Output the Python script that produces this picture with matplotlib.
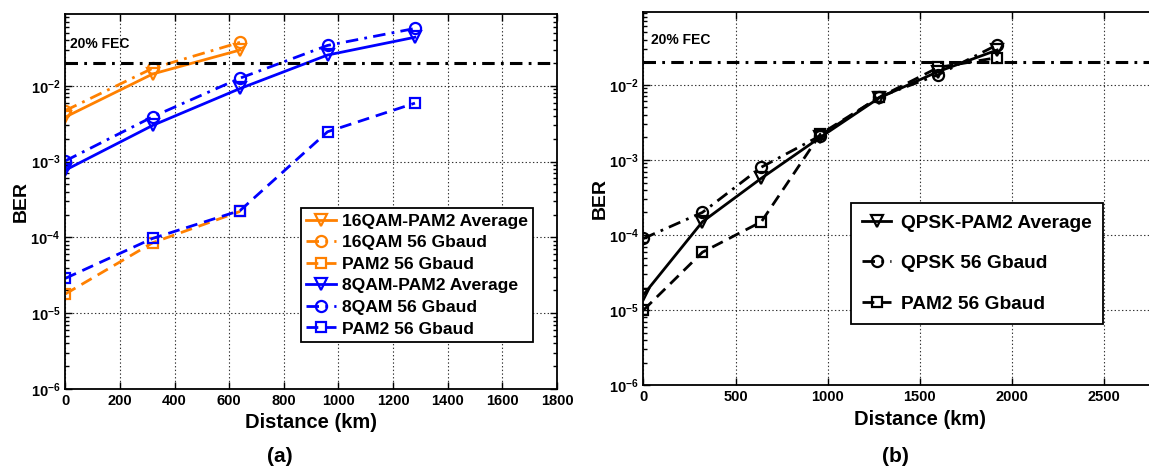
import matplotlib
matplotlib.use('Agg')
import matplotlib.pyplot as plt
from matplotlib.ticker import LogLocator, NullFormatter

plt.rcParams['font.family'] = ['Liberation Sans', 'DejaVu Sans']
plt.rcParams['font.weight'] = 'bold'
plt.rcParams['mathtext.fontset'] = 'custom'
plt.rcParams['mathtext.rm'] = 'Liberation Sans:bold'
plt.rcParams['mathtext.it'] = 'Liberation Sans:bold'
plt.rcParams['mathtext.bf'] = 'Liberation Sans:bold'
plt.rcParams['mathtext.default'] = 'regular'
plt.rcParams['lines.scale_dashes'] = False

# ---- panel (a) data ----
dist_a = [0, 320, 640, 960, 1280]
qam16_avg = [3.86e-3, 1.43e-2, 2.96e-2]
qam16_56 = [4.7e-3, 1.7e-2, 3.74e-2]
pam2_16 = [1.79e-5, 8.5e-5, 2.2e-4]
qam8_avg = [7.7e-4, 3.0e-3, 9.2e-3, 2.54e-2, 4.36e-2]
qam8_56 = [1.02e-3, 3.9e-3, 1.26e-2, 3.4e-2, 5.7e-2]
pam2_8 = [2.88e-5, 9.7e-5, 2.26e-4, 2.47e-3, 5.9e-3]

# ---- panel (b) data ----
dist_b = [0, 320, 640, 960, 1280, 1600, 1920]
qpsk_avg = [1.6e-5, 1.5e-4, 5.7e-4, 2.0e-3, 6.7e-3, 1.5e-2, 2.9e-2]
qpsk_56 = [9.0e-5, 2.0e-4, 8.0e-4, 2.1e-3, 6.9e-3, 1.36e-2, 3.4e-2]
pam2_b = [1.0e-5, 5.9e-5, 1.5e-4, 2.2e-3, 6.8e-3, 1.7e-2, 2.3e-2]

fec = 2e-2
orange = '#ff8000'
blue = '#0000ff'
dashdot = (9, 4.5, 2, 4.5)
dashed = (8.5, 5)

fig = plt.figure(figsize=(11.49, 4.67), dpi=100)
ax1 = fig.add_axes([0.0568, 0.167, 0.428, 0.803])
ax2 = fig.add_axes([0.560, 0.175, 0.481, 0.799])


def style(ax, ymax):
    ax.set_yscale('log')
    ax.set_ylim(1e-6, ymax)
    ax.yaxis.set_major_locator(LogLocator(base=10, numticks=10))
    ax.yaxis.set_minor_locator(LogLocator(base=10, subs=range(2, 10), numticks=10))
    ax.yaxis.set_minor_formatter(NullFormatter())
    ax.tick_params(which='both', direction='in', top=True, right=True,
                   labelsize=10.5, width=1)
    ax.tick_params(which='major', length=5)
    ax.tick_params(which='minor', length=3)
    ax.grid(True, which='major', color='k', ls=':', lw=0.8, alpha=0.8)
    for s in ax.spines.values():
        s.set_linewidth(1.3)
    ax.axhline(fec, color='k', lw=2.2, dashes=dashdot)
    ax.set_xlabel('Distance (km)', fontsize=14.5, fontweight='bold', labelpad=4)
    ax.set_ylabel('BER', fontsize=14, fontweight='bold')


lw = 2
ms = 8
n16 = len(qam16_avg)
ax1.plot(dist_a[:n16], qam16_avg, color=orange, lw=lw, marker='v', ms=ms,
         mfc='none', mew=1.6, label='16QAM-PAM2 Average')
ax1.plot(dist_a[:n16], qam16_56, color=orange, lw=lw, dashes=dashdot, marker='o',
         ms=ms, mfc='none', mew=1.6, label='16QAM 56 Gbaud')
ax1.plot(dist_a[:n16], pam2_16, color=orange, lw=lw, dashes=dashed, marker='s',
         ms=7, mfc='none', mew=1.6, label='PAM2 56 Gbaud')
ax1.plot(dist_a, qam8_avg, color=blue, lw=lw, marker='v', ms=ms,
         mfc='none', mew=1.6, label='8QAM-PAM2 Average')
ax1.plot(dist_a, qam8_56, color=blue, lw=lw, dashes=dashdot, marker='o',
         ms=ms, mfc='none', mew=1.6, label='8QAM 56 Gbaud')
ax1.plot(dist_a, pam2_8, color=blue, lw=lw, dashes=dashed, marker='s',
         ms=7, mfc='none', mew=1.6, label='PAM2 56 Gbaud')
ax1.set_xlim(0, 1800)
ax1.set_xticks(range(0, 1801, 200))
style(ax1, 10 ** -1.054)
ax1.text(17, 0.035, '20% FEC', fontsize=10, fontweight='bold', va='center')
ax1.yaxis.set_label_coords(-0.072, 0.5)
leg1 = ax1.legend(loc='lower left', bbox_to_anchor=(0.479, 0.126), borderaxespad=0,
                  prop={'size': 12.6, 'weight': 'bold'}, handlelength=1.7,
                  handletextpad=0.35, labelspacing=0.36, borderpad=0.3,
                  fancybox=False, framealpha=1, edgecolor='k')
leg1.get_frame().set_linewidth(1.3)

ax2.plot(dist_b, qpsk_avg, color='k', lw=lw, marker='v', ms=ms,
         mfc='none', mew=1.6, label='QPSK-PAM2 Average')
ax2.plot(dist_b, qpsk_56, color='k', lw=lw, dashes=dashdot, marker='o',
         ms=ms, mfc='none', mew=1.6, label='QPSK 56 Gbaud')
ax2.plot(dist_b, pam2_b, color='k', lw=lw, dashes=dashed, marker='s',
         ms=7, mfc='none', mew=1.6, label='PAM2 56 Gbaud')
ax2.set_xlim(0, 3000)
ax2.set_xticks(range(0, 2501, 500))
style(ax2, 10 ** -1.033)
ax2.text(41, 0.039, '20% FEC', fontsize=10, fontweight='bold', va='center')
ax2.yaxis.set_label_coords(-0.062, 0.5)
leg2 = ax2.legend(loc='lower left', bbox_to_anchor=(0.375, 0.164), borderaxespad=0,
                  prop={'size': 13.8, 'weight': 'bold'}, handlelength=1.5,
                  handletextpad=0.5, labelspacing=1.2, borderpad=0.6,
                  fancybox=False, framealpha=1, edgecolor='k')
leg2.get_frame().set_linewidth(1.3)

fig.text(280 / 1149, 1 - 456 / 467, '(a)', fontsize=15, fontweight='bold',
         ha='center', va='center')
fig.text(895 / 1149, 1 - 456 / 467, '(b)', fontsize=15, fontweight='bold',
         ha='center', va='center')

fig.savefig('out.png', dpi=100)
